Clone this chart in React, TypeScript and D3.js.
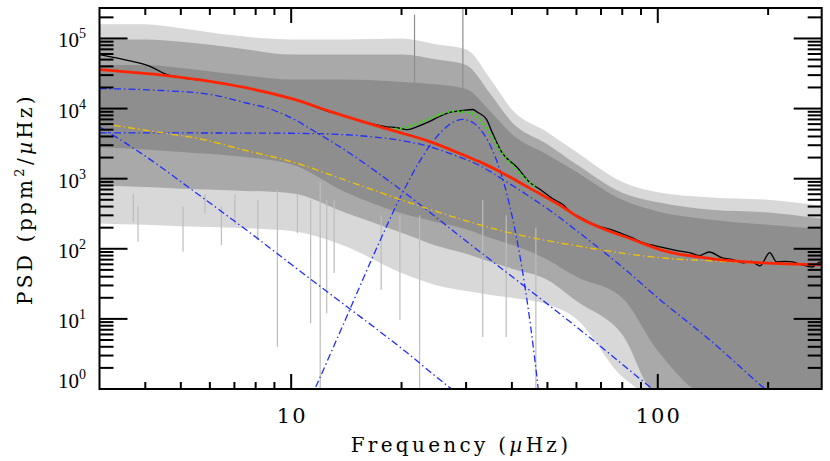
import React from "react";
import * as d3 from "d3";

// ---------- axis / tick data ----------
const xDomain = [3, 280];
const yDomain = [1, 2.72e5];
const xMajorTicks = [10, 100];
const xMajorLabels = ["10", "100"];
const xMinorTicks = [4, 5, 6, 7, 8, 9, 20, 30, 40, 50, 60, 70, 80, 90, 200];
const yMajorTicks = [1, 10, 100, 1e3, 1e4, 1e5];
const yMajorExp = ["0", "1", "2", "3", "4", "5"];

// ---------- periodogram (grey) envelope bands ----------
const noiseFreq = [3, 4, 5, 7, 10, 14, 20, 25, 30, 35, 40, 50, 60, 80, 100, 140, 200, 280];
const lightTop = [1.6e5, 1.6e5, 1.4e5, 1.1e5, 9.7e4, 9.7e4, 1.0e5, 8.2e4, 7.0e4, 2.6e4, 9.7e3, 4.6e3, 2.4e3, 900, 640, 540, 500, 410];
const lightBottom = [230, 220, 210, 200, 180, 110, 45, 30, 25, 22, 20, 16, 10, 1.5, 0.8, 0.8, 0.8, 0.8];
const midTop = [9.7e4, 9.7e4, 9.0e4, 7.4e4, 5.9e4, 5.9e4, 5.9e4, 5.0e4, 4.2e4, 1.6e4, 6.4e3, 3.1e3, 1.6e3, 630, 460, 360, 330, 270];
const midBottom = [800, 760, 720, 680, 620, 330, 170, 110, 85, 65, 52, 36, 18, 6, 0.8, 0.8, 0.8, 0.8];
const denseTop = [4.2e4, 4.2e4, 3.8e4, 3.1e4, 2.6e4, 2.6e4, 2.4e4, 2.2e4, 1.9e4, 9.0e3, 4.3e3, 2.2e3, 1.25e3, 500, 340, 260, 220, 190];
const denseBottom = [2800, 2600, 2400, 2100, 1600, 650, 320, 240, 190, 143, 114, 70, 40, 20, 3.5, 0.8, 0.8, 0.8];

// individual prominent spikes (frequency, lowest value, highest value)
const spikeFreq = [29.4, 21.7, 22.4, 12.0, 9.17, 5.07, 3.82, 6.45, 11.3, 19.8, 38.6, 33.3, 46.5, 3.71, 5.82, 7.02, 8.11, 10.4, 12.5, 13.1, 17.6];
const spikeLow = [1000, 2000, 0.8, 0.8, 4.0, 91, 126, 113, 8.7, 9.7, 5.5, 5.5, 0.8, 244, 321, 219, 134, 166, 12, 45, 26];
const spikeHigh = [2.8e5, 2.2e5, 300, 900, 700, 400, 400, 400, 500, 300, 300, 500, 200, 600, 600, 600, 500, 600, 500, 500, 300];

// ---------- model components ----------
const harveyAFreq = [3, 4.43, 6.07, 7.46, 8.85, 10.2, 11.6, 13.7, 18.6, 30, 65, 96.7, 120];
const harveyAPow = [1.93e4, 1.81e4, 1.58e4, 1.22e4, 9.7e3, 7.0e3, 4.7e3, 2.77e3, 906, 129, 5.5, 1, 0.4];

const harveyBFreq = [3, 8, 11.4, 16, 20, 23.8, 28, 32.6, 38, 44.6, 52, 61.1, 80, 100, 140, 196, 250];
const harveyBPow = [4.5e3, 4.47e3, 4.4e3, 4.03e3, 3.5e3, 2.87e3, 2.15e3, 1.55e3, 957, 560, 322, 169, 55, 20, 4.8, 1, 0.34];

const harveyCFreq = [3, 4, 5.35, 8, 10, 14, 20, 27.4, 35];
const harveyCPow = [5.5e3, 2.1e3, 700, 147, 60, 15.8, 3.8, 1, 0.4];

const gaussFreq = [10, 11.6, 14, 17, 20, 23, 26, 27.5, 29.4, 31, 33, 36, 39, 42, 45, 47.2, 50];
const gaussPow = [0.19, 1, 9.3, 95, 590, 2.2e3, 5.0e3, 6.3e3, 7.0e3, 6.5e3, 4.85e3, 2.07e3, 531, 83, 7.8, 1, 0.05];

const yellowFreq = [3, 4.72, 5.64, 7.46, 10.2, 14, 22, 38.6, 65, 103, 141, 200, 280];
const yellowPow = [6.2e3, 4.3e3, 3.7e3, 2.55e3, 1.7e3, 960, 421, 174, 103, 74, 67, 62, 58];

const fitFreq = [3, 4.57, 6, 7.46, 10.2, 12.7, 14, 18.6, 23.8, 30, 32.6, 37, 44.6, 55, 61.1, 75.2, 84, 103, 141, 193, 280];
const fitPow = [3.6e4, 2.96e4, 2.45e4, 2.0e4, 1.35e4, 9.2e3, 7.8e3, 5.0e3, 3.41e3, 2.1e3, 1.75e3, 1.27e3, 740, 397, 277, 172, 140, 95, 72, 63, 59];

const smoothFreq = [3, 3.69, 4.12, 4.58, 4.8, 6, 7.46, 10.2, 12.7, 14, 15.7, 17, 18.2, 19.4, 20.7, 22, 23.8, 25.4, 27.1, 29.4, 31.3, 32.3, 34.1, 35.4, 37.6, 41.2, 44.6, 48, 51.6, 55, 58, 61.1, 68, 75.2, 84, 92, 103, 112, 122, 130, 138, 150, 160, 171, 180, 190, 202, 211, 222, 233, 245, 264, 277, 280];
const smoothPow = [5.9e4, 4.7e4, 4.0e4, 3.06e4, 2.87e4, 2.45e4, 2.0e4, 1.36e4, 9.0e3, 7.9e3, 6.5e3, 5.9e3, 5.5e3, 5.35e3, 5.0e3, 5.5e3, 6.5e3, 7.7e3, 8.8e3, 9.4e3, 9.7e3, 8.8e3, 7.0e3, 4.5e3, 2.35e3, 1.48e3, 900, 690, 520, 430, 330, 285, 215, 185, 148, 120, 105, 95, 88, 80, 90, 74, 70, 63, 66, 57, 88, 65, 66, 65, 60, 55, 65, 62];

const peakFreq = [18.6, 19.8, 22.4, 25.4, 27.5, 30.7, 32.6, 34.8, 37, 41.2, 43.8, 46.2];
const peakPow = [5.1e3, 5.2e3, 6.3e3, 8.2e3, 9.1e3, 8.8e3, 7.0e3, 4.5e3, 2.6e3, 1.34e3, 968, 769];

export default function App() {
  const W = 830;
  const H = 461;
  const L = 99.5, R = 821.7, T = 8, B = 389;
  const x = d3.scaleLog().domain(xDomain).range([L, R]);
  const y = d3.scaleLog().domain(yDomain).range([B, T]);

  const mkLine = (fs: number[], ps: number[], curve: any) =>
    d3
      .line<number>()
      .x((_, i) => x(fs[i]))
      .y((_, i) => y(ps[i]))
      .curve(curve)(fs) as string;

  const mkArea = (lo: number[], hi: number[]) =>
    d3
      .area<number>()
      .x((_, i) => x(noiseFreq[i]))
      .y0((_, i) => y(lo[i]))
      .y1((_, i) => y(hi[i]))
      .curve(d3.curveMonotoneX)(noiseFreq) as string;

  const yMinor: number[] = [];
  yMajorTicks.forEach((d) => {
    for (let m = 2; m <= 9; m++) {
      const v = d * m;
      if (v <= yDomain[1]) yMinor.push(v);
    }
  });

  const dashDot = "7,3,1.5,3";
  const blue = "#1f2fff";
  const serif = "'DejaVu Serif', serif";
  const times = "'Liberation Serif', serif";

  return (
    <svg
      width={W}
      height={H}
      viewBox={`0 0 ${W} ${H}`}
      style={{ position: "absolute", left: 0, top: 0, display: "block", background: "#fff" }}
    >
      <defs>
        <clipPath id="plotClip">
          <rect x={L} y={T} width={R - L} height={B - T} />
        </clipPath>
      </defs>

      <g clipPath="url(#plotClip)">
        <path d={mkArea(lightBottom, lightTop)} fill="#d8d8d8" />
        <path d={mkArea(midBottom, midTop)} fill="#a9a9a9" />
        <path d={mkArea(denseBottom, denseTop)} fill="#8e8e8e" />
        {spikeFreq.map((f, i) => (
          <line
            key={i}
            x1={x(f)}
            x2={x(f)}
            y1={y(spikeLow[i])}
            y2={y(spikeHigh[i])}
            stroke={spikeHigh[i] > 1e5 ? "#8e8e8e" : "#bdbdbd"}
            strokeWidth={1.2}
          />
        ))}

        <path d={mkLine(harveyAFreq, harveyAPow, d3.curveMonotoneX)} fill="none" stroke={blue} strokeWidth={1.3} strokeDasharray={dashDot} />
        <path d={mkLine(harveyBFreq, harveyBPow, d3.curveMonotoneX)} fill="none" stroke={blue} strokeWidth={1.3} strokeDasharray={dashDot} />
        <path d={mkLine(harveyCFreq, harveyCPow, d3.curveMonotoneX)} fill="none" stroke={blue} strokeWidth={1.3} strokeDasharray={dashDot} />
        <path d={mkLine(gaussFreq, gaussPow, d3.curveMonotoneX)} fill="none" stroke={blue} strokeWidth={1.3} strokeDasharray={dashDot} />
        <path d={mkLine(yellowFreq, yellowPow, d3.curveMonotoneX)} fill="none" stroke="#f2c200" strokeWidth={1.3} strokeDasharray={dashDot} />

        <path d={mkLine(smoothFreq, smoothPow, d3.curveMonotoneX)} fill="none" stroke="#000" strokeWidth={1.3} />
        <path d={mkLine(peakFreq, peakPow, d3.curveMonotoneX)} fill="none" stroke="#2ee000" strokeWidth={2.4} strokeDasharray="2,3" />
        <path d={mkLine(fitFreq, fitPow, d3.curveMonotoneX)} fill="none" stroke="#ff2400" strokeWidth={2.8} />
      </g>

      {/* frame */}
      <rect x={L} y={T} width={R - L} height={B - T} fill="none" stroke="#000" strokeWidth={2} />

      {/* x ticks */}
      {xMajorTicks.map((t) => (
        <g key={"xm" + t}>
          <line x1={x(t)} x2={x(t)} y1={B} y2={B - 15} stroke="#000" strokeWidth={2} />
          <line x1={x(t)} x2={x(t)} y1={T} y2={T + 15} stroke="#000" strokeWidth={2} />
        </g>
      ))}
      {xMinorTicks.map((t) => (
        <g key={"xn" + t}>
          <line x1={x(t)} x2={x(t)} y1={B} y2={B - 7} stroke="#000" strokeWidth={2} />
          <line x1={x(t)} x2={x(t)} y1={T} y2={T + 7} stroke="#000" strokeWidth={2} />
        </g>
      ))}
      {xMajorTicks.map((t, i) => (
        <text key={"xl" + t} x={x(t) + 1} y={423} textAnchor="middle" fontFamily={serif} fontSize={21} letterSpacing={2}>
          {xMajorLabels[i]}
        </text>
      ))}

      {/* y ticks */}
      {yMajorTicks.map((t) => (
        <g key={"ym" + t}>
          <line x1={L} x2={L + 28} y1={y(t)} y2={y(t)} stroke="#000" strokeWidth={2} />
          <line x1={R} x2={R - 28} y1={y(t)} y2={y(t)} stroke="#000" strokeWidth={2} />
        </g>
      ))}
      {yMinor.map((t) => (
        <g key={"yn" + t}>
          <line x1={L} x2={L + 14} y1={y(t)} y2={y(t)} stroke="#000" strokeWidth={2} />
          <line x1={R} x2={R - 14} y1={y(t)} y2={y(t)} stroke="#000" strokeWidth={2} />
        </g>
      ))}
      {yMajorTicks.map((t, i) => (
        <text
          key={"yl" + t}
          x={86}
          y={i === 0 ? 388 : y(t) + 9}
          textAnchor="end"
          fontFamily={times}
          fontSize={21}
        >
          10
          <tspan dy={-9} fontSize={14}>
            {yMajorExp[i]}
          </tspan>
        </text>
      ))}

      {/* axis titles */}
      <text x={461} y={452} textAnchor="middle" fontFamily={serif} fontSize={20} letterSpacing={3.3}>
        Frequency (<tspan fontStyle="italic">µ</tspan>Hz)
      </text>
      <text
        transform={`translate(32,199) rotate(-90)`}
        textAnchor="middle"
        fontFamily={serif}
        fontSize={20}
        letterSpacing={3.3}
      >
        PSD (ppm
        <tspan dy={-8} fontSize={13}>
          2
        </tspan>
        <tspan dy={8}>/</tspan>
        <tspan fontStyle="italic">µ</tspan>Hz)
      </text>
    </svg>
  );
}
